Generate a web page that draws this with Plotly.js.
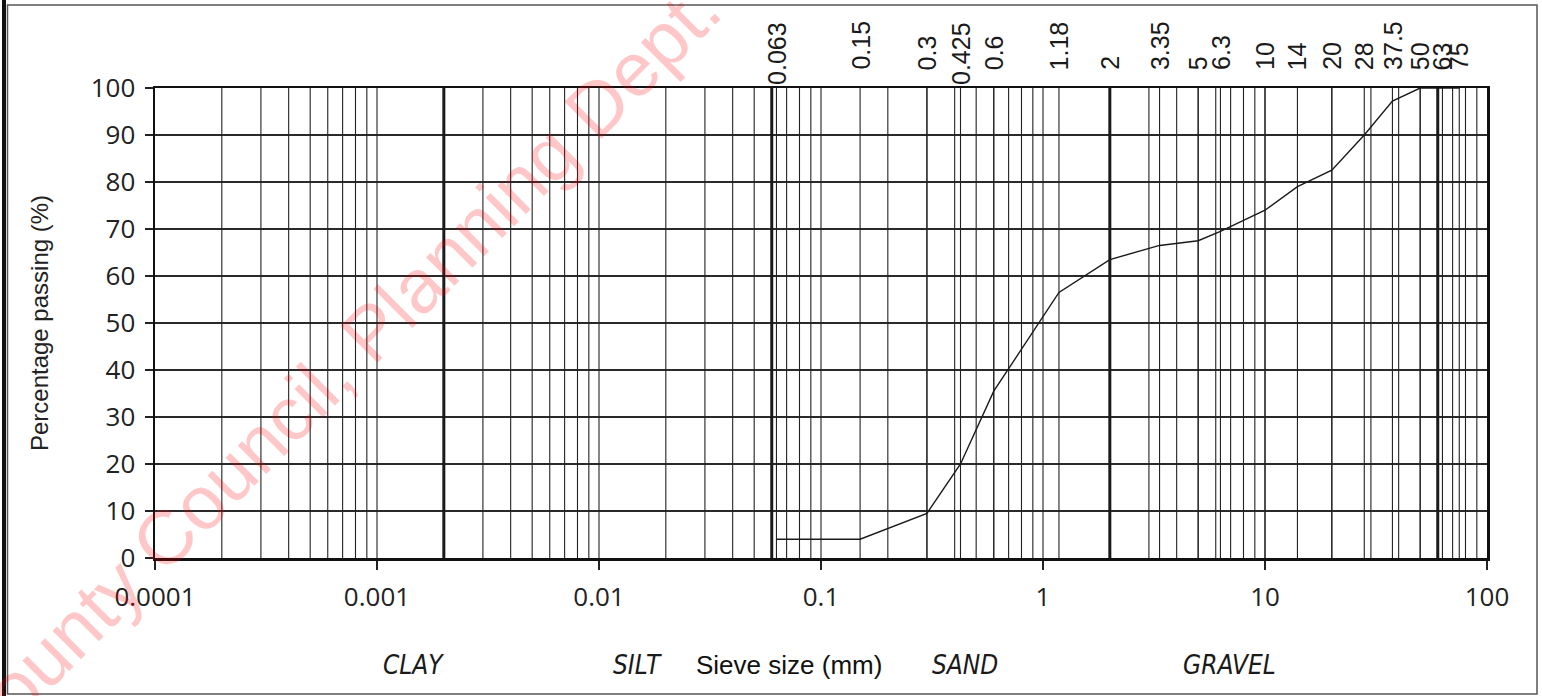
<!DOCTYPE html>
<html>
<head>
<meta charset="utf-8">
<script src="https://cdn.plot.ly/plotly-3.0.1.min.js"></script>
<style>html,body{margin:0;padding:0;background:#fff;}#chart{width:1542px;height:696px;}</style>
</head>
<body>
<div id="chart"></div>
<script>
// ---- data ----
const sieveSizes = [0.063, 0.15, 0.3, 0.425, 0.6, 1.18, 2, 3.35, 5, 6.3, 10, 14, 20, 28, 37.5, 50, 63, 75];
const sieveLabels = ['0.063', '0.15', '0.3', '0.425', '0.6', '1.18', '2', '3.35', '5', '6.3', '10', '14', '20', '28', '37.5', '50', '63', '75'];
const percentPassing = [4, 4, 9.5, 20, 35.5, 56.5, 63.5, 66.5, 67.5, 69.5, 74, 79, 82.5, 90, 97.2, 100, 100, 100];
const decades = [0.0001, 0.001, 0.01, 0.1, 1, 10, 100];
const decadeLabels = ['0.0001', '0.001', '0.01', '0.1', '1', '10', '100'];
const mantissas = [1, 2, 3, 4, 5, 6, 7, 8, 9];
const boundaries = [0.002, 0.06, 2, 60];
const yTicks = [0, 10, 20, 30, 40, 50, 60, 70, 80, 90, 100];
const classNames = ['CLAY', 'SILT', 'SAND', 'GRAVEL'];
const watermarkText = 'County Council, Planning Dept. ';

// ---- build grid line traces ----
function vLines(vals) {
  const xs = [], ys = [];
  vals.forEach(v => { xs.push(v, v, null); ys.push(0, 100, null); });
  return {xs, ys};
}
const minorVals = [];
decades.slice(0, -1).forEach(d => mantissas.forEach(m => minorVals.push(d * m)));
const thinVals = minorVals.concat(sieveSizes).filter(v => v > 0.0001 && v < 100);
const thin = vLines(thinVals);
const bold = vLines(boundaries);

const traces = [
  {x: thin.xs, y: thin.ys, mode: 'lines', line: {color: '#222', width: 1.1}, hoverinfo: 'skip', showlegend: false},
  {x: bold.xs, y: bold.ys, mode: 'lines', line: {color: '#1a1a1a', width: 3}, hoverinfo: 'skip', showlegend: false},
  {x: sieveSizes, y: percentPassing, mode: 'lines', line: {color: '#1a1a1a', width: 1.4}, showlegend: false}
];

// ---- annotations ----
const L = 155, T = 88, PW = 1332, PH = 470;
const px2x = p => (p - L) / PW;
const px2y = p => (T + PH - p) / PH;

const annotations = [];
sieveSizes.forEach((v, i) => {
  const long = sieveLabels[i].length > 4;
  annotations.push({
    x: Math.log10(v), xref: 'x', y: 1, yref: 'paper',
    text: sieveLabels[i], showarrow: false, textangle: -90,
    xanchor: 'center', yanchor: long ? 'top' : 'bottom',
    yshift: long ? 68 : 16,
    font: {family: 'Liberation Sans, Arial, sans-serif', size: 25, color: '#1a1a1a'}
  });
});
const classX = [413, 637, 965, 1229];
classNames.forEach((c, i) => annotations.push({
  x: px2x(classX[i]), xref: 'paper', y: px2y(665), yref: 'paper',
  text: '<i>' + c + '</i>', showarrow: false, xanchor: 'center', yanchor: 'middle',
  font: {family: 'Liberation Sans Narrow, DejaVu Sans Condensed, Arial, sans-serif', size: 26, color: '#1a1a1a'}
}));
annotations.push({
  x: px2x(789), xref: 'paper', y: px2y(665), yref: 'paper',
  text: 'Sieve size (mm)', showarrow: false, xanchor: 'center', yanchor: 'middle',
  font: {family: 'Liberation Sans, Arial, sans-serif', size: 26, color: '#111'}
});
annotations.push({
  x: px2x(340), xref: 'paper', y: px2y(362), yref: 'paper',
  text: watermarkText, showarrow: false, textangle: -45,
  xanchor: 'center', yanchor: 'middle',
  font: {family: 'Liberation Sans, Arial, sans-serif', size: 76, color: 'rgba(255,0,0,0.22)'}
});

const layout = {
  width: 1542, height: 696,
  margin: {l: L, r: 1542 - L - PW, t: T, b: 696 - T - PH, pad: 0},
  paper_bgcolor: '#fff', plot_bgcolor: '#fff',
  showlegend: false,
  xaxis: {
    type: 'log', range: [-4, 2], tickvals: decades, ticktext: decadeLabels,
    showgrid: false, zeroline: false, showline: true, mirror: true,
    linecolor: '#111', linewidth: 2.5,
    ticks: 'outside', ticklen: 9, tickwidth: 1.5, tickcolor: '#222',
    ticklabelstandoff: 5,
    tickfont: {family: 'Open Sans, Lato, sans-serif', size: 26, color: '#222'}
  },
  yaxis: {
    range: [0, 100], tickvals: yTicks, showgrid: true, gridcolor: '#2a2a2a', gridwidth: 1.1,
    zeroline: false, showline: true, mirror: true, linecolor: '#111', linewidth: 2.5,
    ticks: 'outside', ticklen: 8, tickwidth: 1.5, tickcolor: '#222',
    ticklabelstandoff: 4,
    tickfont: {family: 'Open Sans, Lato, sans-serif', size: 26, color: '#222'},
    title: {text: 'Percentage passing (%)', standoff: 36,
            font: {family: 'Liberation Sans, Arial, sans-serif', size: 24, color: '#222'}}
  },
  annotations: annotations,
  shapes: [
    {type: 'rect', xref: 'paper', yref: 'paper', x0: px2x(7.5), x1: px2x(1537), y0: px2y(694), y1: px2y(5),
     line: {color: '#555', width: 1.5}, layer: 'below'},
    {type: 'line', xref: 'paper', yref: 'paper', x0: px2x(4), x1: px2x(4), y0: px2y(700), y1: px2y(-5),
     line: {color: '#111', width: 4}}
  ]
};

Plotly.newPlot('chart', traces, layout, {displayModeBar: false, staticPlot: true});
</script>
</body>
</html>
